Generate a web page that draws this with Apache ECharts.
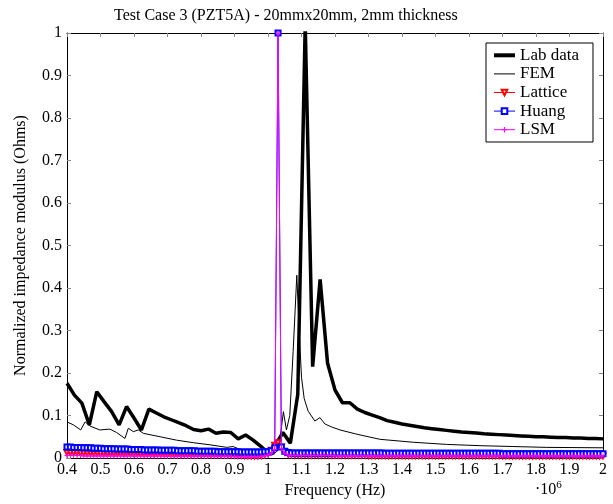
<!DOCTYPE html>
<html><head><meta charset="utf-8">
<script src="https://cdn.jsdelivr.net/npm/echarts@6/dist/echarts.min.js"></script>
<style>html,body{margin:0;padding:0;background:#fff}#c{width:613px;height:504px}</style>
</head><body><div id="c"></div>
<script>
// ---- data (frequency in units of 10^6 Hz) ----
const labFreq = [0.4,0.4222,0.4444,0.4667,0.4889,0.5111,0.5333,0.5556,0.5778,0.6,
0.6222,0.6444,0.6667,0.6889,0.7111,0.7333,0.7556,0.7778,0.8,0.8222,
0.8444,0.8667,0.8889,0.9111,0.9333,0.9556,0.9778,1.0,1.0222,1.0444,
1.0667,1.0889,1.1111,1.1333,1.1556,1.1778,1.2,1.2222,1.2444,1.2667,
1.2889,1.3111,1.3333,1.3556,1.3778,1.4,1.4222,1.4444,1.4667,1.4889,
1.5111,1.5333,1.5556,1.5778,1.6,1.6222,1.6444,1.6667,1.6889,1.7111,
1.7333,1.7556,1.7778,1.8,1.8222,1.8444,1.8667,1.8889,1.9111,1.9333,
1.9556,1.9778,2.0];
const labVals = [0.176,0.148,0.129,0.078,0.156,0.132,0.109,0.078,0.121,0.094,
0.066,0.115,0.106,0.097,0.090,0.083,0.076,0.067,0.064,0.068,
0.058,0.061,0.060,0.045,0.054,0.042,0.028,0.012,0.030,0.060,
0.035,0.150,1.020,0.215,0.420,0.223,0.160,0.130,0.130,0.115,
0.107,0.101,0.095,0.088,0.084,0.080,0.077,0.074,0.071,0.069,
0.067,0.065,0.063,0.061,0.060,0.059,0.057,0.056,0.055,0.054,
0.053,0.052,0.051,0.050,0.050,0.049,0.048,0.048,0.047,0.047,
0.046,0.046,0.045];

const femFreq = [0.400,0.419,0.441,0.454,0.469,0.498,0.528,0.548,0.573,0.583,
0.598,0.613,0.628,0.678,0.727,0.777,0.827,0.877,0.896,0.917,
0.937,0.956,0.976,1.000,1.015,1.025,1.035,1.046,1.055,1.065,
1.075,1.086,1.093,1.100,1.108,1.120,1.140,1.155,1.170,1.190,
1.215,1.265,1.334,1.434,1.533,1.633,1.731,1.832,2.000];
const femVals = [0.085,0.078,0.066,0.085,0.075,0.066,0.068,0.060,0.046,0.070,
0.062,0.066,0.058,0.050,0.042,0.036,0.031,0.025,0.027,0.020,
0.017,0.013,0.011,0.006,0.008,0.015,0.040,0.109,0.066,0.100,
0.250,0.430,0.300,0.190,0.140,0.110,0.087,0.095,0.080,0.073,
0.066,0.056,0.044,0.037,0.032,0.029,0.027,0.025,0.024];

const modelFreq = [0.40,0.41,0.42,0.43,0.44,0.45,0.46,0.47,0.48,0.49,
0.50,0.51,0.52,0.53,0.54,0.55,0.56,0.57,0.58,0.59,
0.60,0.61,0.62,0.63,0.64,0.65,0.66,0.67,0.68,0.69,
0.70,0.71,0.72,0.73,0.74,0.75,0.76,0.77,0.78,0.79,
0.80,0.81,0.82,0.83,0.84,0.85,0.86,0.87,0.88,0.89,
0.90,0.91,0.92,0.93,0.94,0.95,0.96,0.97,0.98,0.99,
1.00,1.01,1.02,1.03,1.04,1.05,1.06,1.07,1.08,1.09,
1.10,1.11,1.12,1.13,1.14,1.15,1.16,1.17,1.18,1.19,
1.20,1.21,1.22,1.23,1.24,1.25,1.26,1.27,1.28,1.29,
1.30,1.31,1.32,1.33,1.34,1.35,1.36,1.37,1.38,1.39,
1.40,1.41,1.42,1.43,1.44,1.45,1.46,1.47,1.48,1.49,
1.50,1.51,1.52,1.53,1.54,1.55,1.56,1.57,1.58,1.59,
1.60,1.61,1.62,1.63,1.64,1.65,1.66,1.67,1.68,1.69,
1.70,1.71,1.72,1.73,1.74,1.75,1.76,1.77,1.78,1.79,
1.80,1.81,1.82,1.83,1.84,1.85,1.86,1.87,1.88,1.89,
1.90,1.91,1.92,1.93,1.94,1.95,1.96,1.97,1.98,1.99,
2.00];
const latticeVals = [0.013,0.013,0.013,0.013,0.012,0.012,0.012,0.012,0.012,0.012,
0.011,0.011,0.011,0.011,0.011,0.011,0.011,0.011,0.011,0.011,
0.011,0.011,0.010,0.010,0.010,0.010,0.010,0.010,0.010,0.010,
0.010,0.010,0.009,0.009,0.009,0.009,0.009,0.009,0.009,0.009,
0.009,0.009,0.008,0.008,0.008,0.008,0.008,0.008,0.008,0.008,
0.008,0.007,0.007,0.006,0.006,0.005,0.005,0.005,0.006,0.008,
0.011,0.018,0.030,0.036,0.026,0.014,0.009,0.008,0.007,0.007,
0.007,0.007,0.007,0.007,0.007,0.007,0.007,0.007,0.007,0.007,
0.007,0.007,0.007,0.007,0.007,0.007,0.007,0.007,0.007,0.007,
0.006,0.006,0.006,0.006,0.006,0.006,0.006,0.006,0.006,0.006,
0.006,0.006,0.006,0.006,0.006,0.006,0.006,0.006,0.006,0.006,
0.006,0.006,0.006,0.006,0.006,0.006,0.006,0.006,0.006,0.006,
0.006,0.006,0.006,0.006,0.006,0.006,0.006,0.006,0.006,0.006,
0.005,0.005,0.005,0.005,0.005,0.005,0.005,0.005,0.005,0.005,
0.005,0.005,0.005,0.005,0.005,0.005,0.005,0.005,0.005,0.005,
0.005,0.005,0.005,0.005,0.005,0.005,0.005,0.005,0.005,0.005,
0.005];
const huangVals = [0.026,0.026,0.025,0.025,0.025,0.024,0.024,0.024,0.023,0.023,
0.023,0.022,0.022,0.022,0.022,0.021,0.021,0.021,0.021,0.020,
0.020,0.020,0.020,0.019,0.019,0.019,0.019,0.019,0.018,0.018,
0.018,0.018,0.018,0.017,0.017,0.017,0.017,0.017,0.017,0.016,
0.016,0.016,0.016,0.016,0.016,0.015,0.015,0.015,0.015,0.015,
0.015,0.015,0.014,0.014,0.014,0.014,0.014,0.014,0.014,0.015,
0.015,0.017,0.024,1.000,0.026,0.016,0.013,0.012,0.012,0.012,
0.012,0.012,0.012,0.012,0.012,0.012,0.012,0.012,0.012,0.012,
0.012,0.012,0.012,0.012,0.012,0.012,0.012,0.012,0.012,0.012,
0.012,0.012,0.012,0.012,0.012,0.011,0.011,0.011,0.011,0.011,
0.011,0.011,0.011,0.011,0.011,0.011,0.011,0.011,0.011,0.011,
0.011,0.011,0.011,0.011,0.011,0.011,0.011,0.011,0.011,0.011,
0.011,0.011,0.011,0.011,0.011,0.011,0.011,0.011,0.011,0.011,
0.010,0.010,0.010,0.010,0.010,0.010,0.010,0.010,0.010,0.010,
0.010,0.010,0.010,0.010,0.010,0.010,0.010,0.010,0.010,0.010,
0.010,0.010,0.010,0.010,0.010,0.010,0.010,0.010,0.010,0.010,
0.010];
const lsmVals = [0.006,0.006,0.006,0.006,0.006,0.005,0.005,0.005,0.005,0.005,
0.005,0.005,0.005,0.005,0.005,0.005,0.005,0.005,0.005,0.005,
0.005,0.005,0.005,0.005,0.005,0.005,0.005,0.005,0.005,0.005,
0.004,0.004,0.004,0.004,0.004,0.004,0.004,0.004,0.004,0.004,
0.004,0.004,0.004,0.004,0.004,0.004,0.004,0.004,0.004,0.004,
0.003,0.003,0.003,0.003,0.003,0.003,0.003,0.003,0.004,0.005,
0.007,0.011,0.020,1.000,0.022,0.011,0.007,0.006,0.006,0.006,
0.006,0.006,0.006,0.006,0.006,0.006,0.006,0.006,0.006,0.006,
0.005,0.005,0.005,0.005,0.005,0.005,0.005,0.005,0.005,0.005,
0.005,0.005,0.005,0.005,0.005,0.005,0.005,0.005,0.005,0.005,
0.005,0.005,0.005,0.005,0.005,0.005,0.005,0.005,0.005,0.005,
0.005,0.005,0.005,0.005,0.005,0.005,0.005,0.005,0.005,0.005,
0.005,0.005,0.005,0.005,0.005,0.005,0.005,0.005,0.005,0.005,
0.005,0.005,0.005,0.005,0.005,0.005,0.005,0.005,0.005,0.005,
0.005,0.005,0.005,0.005,0.005,0.005,0.005,0.005,0.005,0.005,
0.005,0.005,0.005,0.005,0.005,0.005,0.005,0.005,0.005,0.005,
0.005];

const seriesNames = ['Lab data','FEM','Lattice','Huang','LSM'];
const titleText = 'Test Case 3 (PZT5A) - 20mmx20mm, 2mm thickness';
const xName = 'Frequency (Hz)';
const yName = 'Normalized impedance modulus (Ohms)';

// ---- chart ----
const FONT = 'Liberation Serif';
const zip = (xs, ys) => xs.map((x, i) => [x, ys[i]]);
const plusPath = 'path://M4,0H6V4H10V6H6V10H4V6H0V4H4Z';

const chart = echarts.init(document.getElementById('c'), null, {renderer: 'canvas'});
const tickFmt = v => String(+(+v).toFixed(1));
const baseAxis = {
  axisLine: {show: true, onZero: false, lineStyle: {color: '#000', width: 1}},
  axisTick: {show: true, inside: true, length: 4, lineStyle: {color: '#888'}},
  splitLine: {show: false}
};
chart.setOption({
  animation: false,
  backgroundColor: '#fff',
  title: {
    text: titleText, left: 109, top: 3,
    textStyle: {fontFamily: FONT, fontSize: 16, fontWeight: 'normal', color: '#000'}
  },
  grid: {left: 67, right: 10, top: 33, bottom: 46},
  legend: {
    orient: 'vertical', left: 486, top: 43,
    borderColor: '#000', borderWidth: 1, backgroundColor: '#fff', borderRadius: 0,
    padding: [3, 14, 3, 6], itemWidth: 21, itemHeight: 7, itemGap: 0,
    textStyle: {fontFamily: FONT, fontSize: 17, color: '#000', lineHeight: 18.6},
    data: [
      {name: seriesNames[0], itemStyle: {opacity: 0}, lineStyle: {width: 4, color: '#000'}},
      {name: seriesNames[1], itemStyle: {opacity: 0}, lineStyle: {width: 1, color: '#000'}},
      {name: seriesNames[2], lineStyle: {width: 1}},
      {name: seriesNames[3], lineStyle: {width: 1}},
      {name: seriesNames[4], lineStyle: {width: 1}}
    ]
  },
  xAxis: [
    Object.assign({}, baseAxis, {
      type: 'value', position: 'bottom', min: 0.4, max: 2, interval: 0.1,
      name: xName, nameLocation: 'middle', nameGap: 25,
      nameTextStyle: {fontFamily: FONT, fontSize: 16, color: '#000'},
      axisLabel: {formatter: tickFmt, fontFamily: FONT, fontSize: 16, color: '#000', margin: 4}
    }),
    Object.assign({}, baseAxis, {
      type: 'value', position: 'top', min: 0.4, max: 2, interval: 0.1,
      axisLabel: {show: false}
    })
  ],
  yAxis: [
    Object.assign({}, baseAxis, {
      type: 'value', position: 'left', min: 0, max: 1, interval: 0.1,
      name: yName, nameLocation: 'middle', nameGap: 38,
      nameTextStyle: {fontFamily: FONT, fontSize: 16, color: '#000'},
      axisLabel: {formatter: tickFmt, fontFamily: FONT, fontSize: 16, color: '#000', margin: 5}
    }),
    Object.assign({}, baseAxis, {
      type: 'value', position: 'right', min: 0, max: 1, interval: 0.1,
      axisLabel: {show: false}
    })
  ],
  graphic: [{
    type: 'text', left: 535, top: 480,
    style: {
      text: '·10{s|6}', fontFamily: FONT, fontSize: 16, fill: '#000',
      rich: {s: {fontFamily: FONT, fontSize: 11, verticalAlign: 'top', padding: [0, 0, 8, 0]}}
    }
  }],
  series: [
    {name: seriesNames[0], type: 'line', data: zip(labFreq, labVals), symbol: 'none',
     lineStyle: {color: '#000', width: 3.5}, itemStyle: {color: '#000'}, clip: true, z: 2},
    {name: seriesNames[1], type: 'line', data: zip(femFreq, femVals), symbol: 'none',
     lineStyle: {color: '#000', width: 1}, itemStyle: {color: '#000'}, clip: true, z: 3},
    {name: seriesNames[2], type: 'line', data: zip(modelFreq, latticeVals),
     symbol: 'emptyTriangle', symbolRotate: 180, symbolSize: 5, showAllSymbol: true,
     lineStyle: {color: '#ff0000', width: 1}, itemStyle: {color: '#ff0000', borderWidth: 1}, clip: true, z: 4},
    {name: seriesNames[3], type: 'line', data: zip(modelFreq, huangVals),
     symbol: 'emptyRect', symbolSize: 5, showAllSymbol: true,
     lineStyle: {color: '#0000ff', width: 1}, itemStyle: {color: '#0000ff', borderWidth: 1}, clip: true, z: 5},
    {name: seriesNames[4], type: 'line', data: zip(modelFreq, lsmVals),
     symbol: plusPath, symbolSize: 5, showAllSymbol: true,
     lineStyle: {color: '#ff00ff', width: 1}, itemStyle: {color: '#ff00ff'}, clip: true, z: 6}
  ]
});
</script></body></html>
